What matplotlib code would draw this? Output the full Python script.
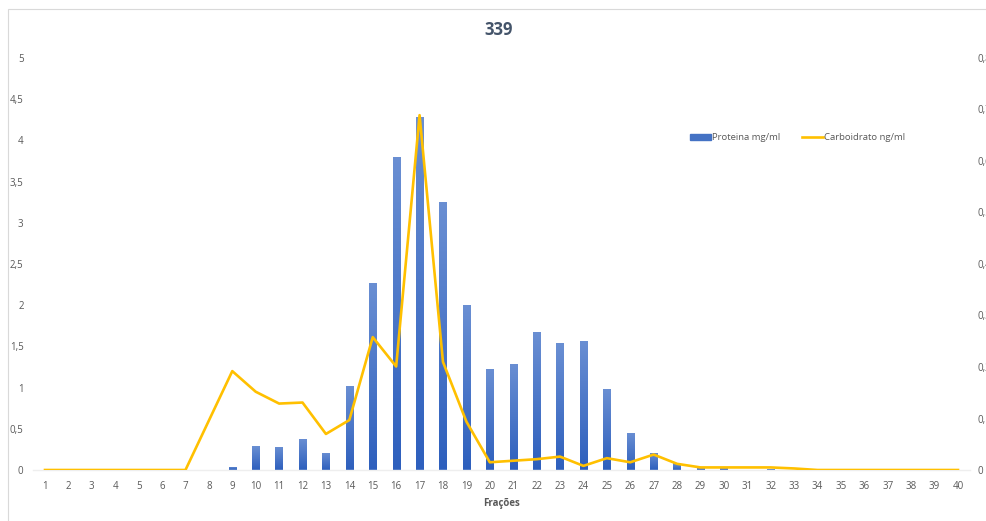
import matplotlib
matplotlib.use("Agg")
import matplotlib.pyplot as plt
import numpy as np
from matplotlib.ticker import FuncFormatter, MultipleLocator
from matplotlib.lines import Line2D
from matplotlib.patches import Rectangle
from matplotlib.colors import LinearSegmentedColormap

# fractions 1..40
fracoes = list(range(1, 41))

# protein (mg/ml), left axis
proteina = [0, 0, 0, 0, 0, 0, 0, 0, 0.04, 0.29,
            0.28, 0.38, 0.21, 1.02, 2.27, 3.80, 4.28, 3.25, 2.00, 1.23,
            1.29, 1.67, 1.54, 1.57, 0.98, 0.45, 0.21, 0.08, 0.02, 0.02,
            0, 0.01, 0, 0, 0, 0, 0, 0, 0, 0]

# carbohydrate (ng/ml), right axis
carboidrato = [0, 0, 0, 0, 0, 0, 0, 0.096, 0.192, 0.152,
               0.129, 0.131, 0.070, 0.097, 0.258, 0.201, 0.689, 0.210, 0.094, 0.015,
               0.018, 0.021, 0.026, 0.008, 0.023, 0.015, 0.030, 0.012, 0.005, 0.005,
               0.005, 0.005, 0.003, 0, 0, 0, 0, 0, 0, 0]

plt.rcParams['font.family'] = ['Open Sans', 'DejaVu Sans']
txt_color = '#595959'

fig = plt.figure(figsize=(9.87, 5.21), dpi=100)
ax = fig.add_axes([33.3 / 987, 51 / 521, 936.4 / 987, 412 / 521])

# chart area border
fig.patches.append(Rectangle((8 / 987, -0.1), 1.2, (521 - 9) / 521 + 0.1,
                             transform=fig.transFigure, fill=False,
                             edgecolor='#d9d9d9', linewidth=0.8))

# bars with vertical gradient
cmap = LinearSegmentedColormap.from_list('blu', ['#2d5fbd', '#6a8fd3'])
grad = np.linspace(0, 1, 256).reshape(-1, 1)
bars = ax.bar(fracoes, proteina, width=0.31, color='#4472c4', zorder=2)
for b in bars:
    h = b.get_height()
    if h <= 0:
        continue
    x0 = b.get_x()
    im = ax.imshow(grad, cmap=cmap, aspect='auto', origin='lower',
                   extent=[x0, x0 + b.get_width(), 0, h], zorder=2.1)
    im.set_clip_path(b)

ax.set_xlim(0.5, 40.5)
ax.set_ylim(0, 5)
ax.yaxis.set_major_locator(MultipleLocator(0.5))
comma = FuncFormatter(lambda v, p: ('%g' % round(v, 2)).replace('.', ','))
ax.yaxis.set_major_formatter(comma)
ax.set_xticks(fracoes)
ax.tick_params(axis='both', length=0, labelsize=7, colors=txt_color)
ax.tick_params(axis='y', pad=7)
ax.tick_params(axis='x', pad=8)
for s in ['top', 'right', 'left']:
    ax.spines[s].set_visible(False)
ax.spines['bottom'].set_color('#eeeeee')
ax.spines['bottom'].set_linewidth(1)
ax.set_xlabel('Frações', fontsize=7, fontweight='bold', color=txt_color, labelpad=4)

ax2 = ax.twinx()
ax2.plot(fracoes, carboidrato, color='#ffc000', linewidth=1.9, zorder=3)
ax2.set_ylim(0, 0.8)
ax2.yaxis.set_major_locator(MultipleLocator(0.1))
ax2.yaxis.set_major_formatter(comma)
ax2.tick_params(axis='y', length=0, labelsize=7, colors=txt_color, pad=5.5)
for s in ['top', 'right', 'left', 'bottom']:
    ax2.spines[s].set_visible(False)

fig.text(499 / 987, 1 - 30 / 521, '339', ha='center', va='center',
         fontsize=12, fontweight='bold', color='#44546a')

handles = [Rectangle((0, 0), 1, 1, color='#4472c4'),
           Line2D([0], [0], color='#ffc000', linewidth=1.9)]
leg = fig.legend(handles, ['Proteina mg/ml', 'Carboidrato ng/ml'],
                 loc='center left', bbox_to_anchor=(682 / 987, 1 - 138 / 521),
                 ncol=2, frameon=False, fontsize=6.8, handlelength=2.2,
                 handleheight=0.5, handletextpad=0.1, columnspacing=2.3)
for t in leg.get_texts():
    t.set_color(txt_color)

fig.savefig('out.png', dpi=100)
